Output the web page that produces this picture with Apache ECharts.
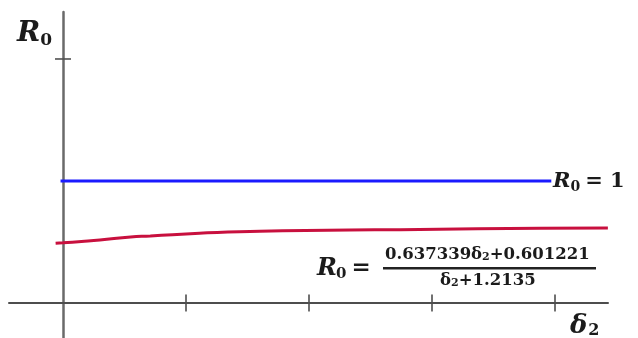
<!DOCTYPE html>
<html>
<head>
<meta charset="utf-8">
<script src="https://cdn.jsdelivr.net/npm/echarts@6/dist/echarts.min.js"></script>
<style>html,body{margin:0;padding:0;background:#fff;}#c{width:638px;height:338px;}</style>
</head>
<body>
<div id="c"></div>
<script>
// δ2 positions (in tick units) and R0 values
const redX = [-0.06, 0, 0.15, 0.30, 0.55, 0.71, 0.89, 1.11, 1.34, 1.60, 1.97, 2.33, 2.74, 3.37, 3.88, 4.43];
const redY = [0.489, 0.493, 0.504, 0.516, 0.541, 0.549, 0.560, 0.572, 0.582, 0.588, 0.594, 0.598, 0.601, 0.609, 0.613, 0.615];
const blueX = [-0.02, 3.97];
const blueY = [1, 1];
const xTicks = [1, 2, 3, 4];
const yTicks = [2];
const xRange = [-0.439, 4.431];
const yRange = [-0.287, 2.385];

const zip = (a, b) => a.map((v, i) => [v, b[i]]);
const TXT = '#1b1b1b';
const SERIF = '"DejaVu Serif", "Liberation Serif", serif';
const mctx = document.createElement('canvas').getContext('2d');

function fontOf(size, italic) {
  return (italic ? 'italic ' : '') + 'bold ' + size + 'px ' + SERIF;
}
// lay out pieces [text, size, italic, dy, gapAfter] left to right from x
function flow(x, y, pieces) {
  const out = [];
  let cx = x;
  pieces.forEach(p => {
    const f = fontOf(p[1], p[2]);
    out.push({type: 'text', x: cx, y: y + (p[3] || 0), silent: true,
      style: {text: p[0], font: f, fill: TXT, textAlign: 'left', textVerticalAlign: 'top'}});
    mctx.font = f;
    cx += mctx.measureText(p[0]).width + (p[4] || 0);
  });
  return out;
}

const chart = echarts.init(document.getElementById('c'), null, {renderer: 'canvas'});
chart.setOption({
  animation: false,
  backgroundColor: '#fff',
  grid: {left: 9, right: 30, top: 12, bottom: 0, containLabel: false},
  xAxis: {type: 'value', min: xRange[0], max: xRange[1],
    axisLine: {onZero: true, lineStyle: {color: '#4d4d4d', width: 2}},
    splitLine: {show: false}, axisLabel: {show: false}, axisTick: {show: false}},
  yAxis: {type: 'value', min: yRange[0], max: yRange[1],
    axisLine: {onZero: true, lineStyle: {color: '#6a6a6a', width: 2.5}},
    splitLine: {show: false}, axisLabel: {show: false}, axisTick: {show: false}},
  series: [
    {type: 'line', name: 'R0 = 1', data: zip(blueX, blueY), showSymbol: false,
     lineStyle: {color: '#1a1aff', width: 3}, z: 3},
    {type: 'line', name: 'R0 curve', data: zip(redX, redY), showSymbol: false, smooth: true,
     lineStyle: {color: '#c8103e', width: 3}, clip: false, z: 3},
    // axis tick marks that cross the axes
    {type: 'scatter', name: 'x ticks', data: xTicks.map(v => [v, 0]), symbol: 'rect',
     symbolSize: [2, 17], itemStyle: {color: '#4d4d4d'}, silent: true, z: 4},
    {type: 'scatter', name: 'y ticks', data: yTicks.map(v => [0, v]), symbol: 'rect',
     symbolSize: [16, 2], itemStyle: {color: '#4d4d4d'}, silent: true, z: 4}
  ],
  graphic: [].concat(
    flow(17, 20, [['R', 28, true, 0, 0], ['0', 17, false, 12]]),
    flow(553, 171, [['R', 21, true, 0, 0], ['0', 14, false, 9, 5], ['= 1', 21, false]]),
    flow(317, 257, [['R', 24, true, 0, -1], ['0', 15, false, 10, 5], ['=', 23, false]]),
    flow(385, 246, [['0.637339δ', 16.5, false], ['2', 11, false, 6], ['+0.601221', 16.5, false]]),
    flow(440, 272, [['δ', 16.5, false], ['2', 11, false, 6], ['+1.2135', 16.5, false]]),
    flow(570, 313, [['δ', 26, true, 0, 1], ['2', 16, false, 10]]),
    [{type: 'rect', silent: true, shape: {x: 383, y: 267, width: 213, height: 2.5}, style: {fill: '#222'}}]
  )
});
</script>
</body>
</html>
